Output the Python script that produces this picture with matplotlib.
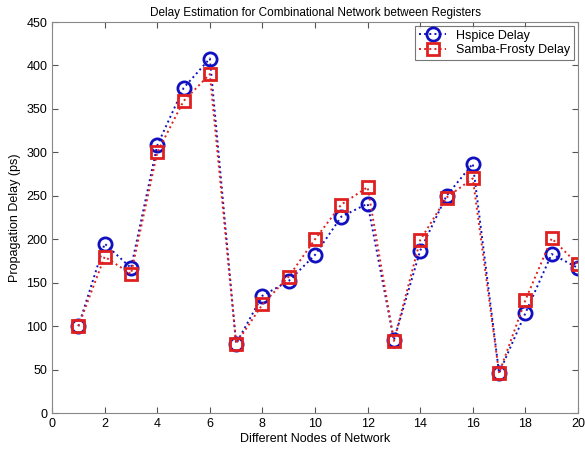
import matplotlib
matplotlib.use("Agg")
import matplotlib.pyplot as plt

# -------------------------------------------------------------------
# Data
# -------------------------------------------------------------------
nodes = list(range(1, 21))
hspice_delay = [100, 195, 167, 308, 374, 408, 80, 135, 152, 182,
                226, 241, 84, 187, 250, 287, 46, 115, 183, 167]
samba_delay = [100, 180, 160, 300, 359, 390, 80, 125, 157, 200,
               240, 260, 83, 199, 248, 270, 46, 130, 201, 171]

plt.rcParams["font.family"] = ["Liberation Sans", "DejaVu Sans"]
plt.rcParams["font.size"] = 9

fig = plt.figure(figsize=(5.85, 4.49), dpi=100)
ax = fig.add_axes([0.089, 0.080, 0.899, 0.871])

ax.plot(nodes, hspice_delay, linestyle=":", color="#1010c0", linewidth=1.4,
        marker="o", markersize=9.5, markerfacecolor="none",
        markeredgewidth=2.0, label="Hspice Delay")
ax.plot(nodes, samba_delay, linestyle=":", color="#e02020", linewidth=1.4,
        marker="s", markersize=8, markerfacecolor="none",
        markeredgewidth=2.0, label="Samba-Frosty Delay")

ax.set_xlim(0, 20)
ax.set_ylim(0, 450)
ax.set_xticks(range(0, 21, 2))
ax.set_yticks(range(0, 451, 50))
ax.tick_params(direction="in", top=True, right=True, labelsize=9,
               color="#555555", length=4)
for s in ax.spines.values():
    s.set_color("#888888")

ax.set_title("Delay Estimation for Combinational Network between Registers",
             fontsize=8.5, pad=4)
ax.set_xlabel("Different Nodes of Network", fontsize=9, labelpad=2)
ax.set_ylabel("Propagation Delay (ps)", fontsize=9, labelpad=4)

leg = ax.legend(loc="upper right", fontsize=9, fancybox=False,
                borderaxespad=0.3, handlelength=2.2, borderpad=0.3,
                labelspacing=0.2)
leg.get_frame().set_edgecolor("#555555")
leg.get_frame().set_linewidth(0.8)

fig.savefig("out.png", dpi=100)
